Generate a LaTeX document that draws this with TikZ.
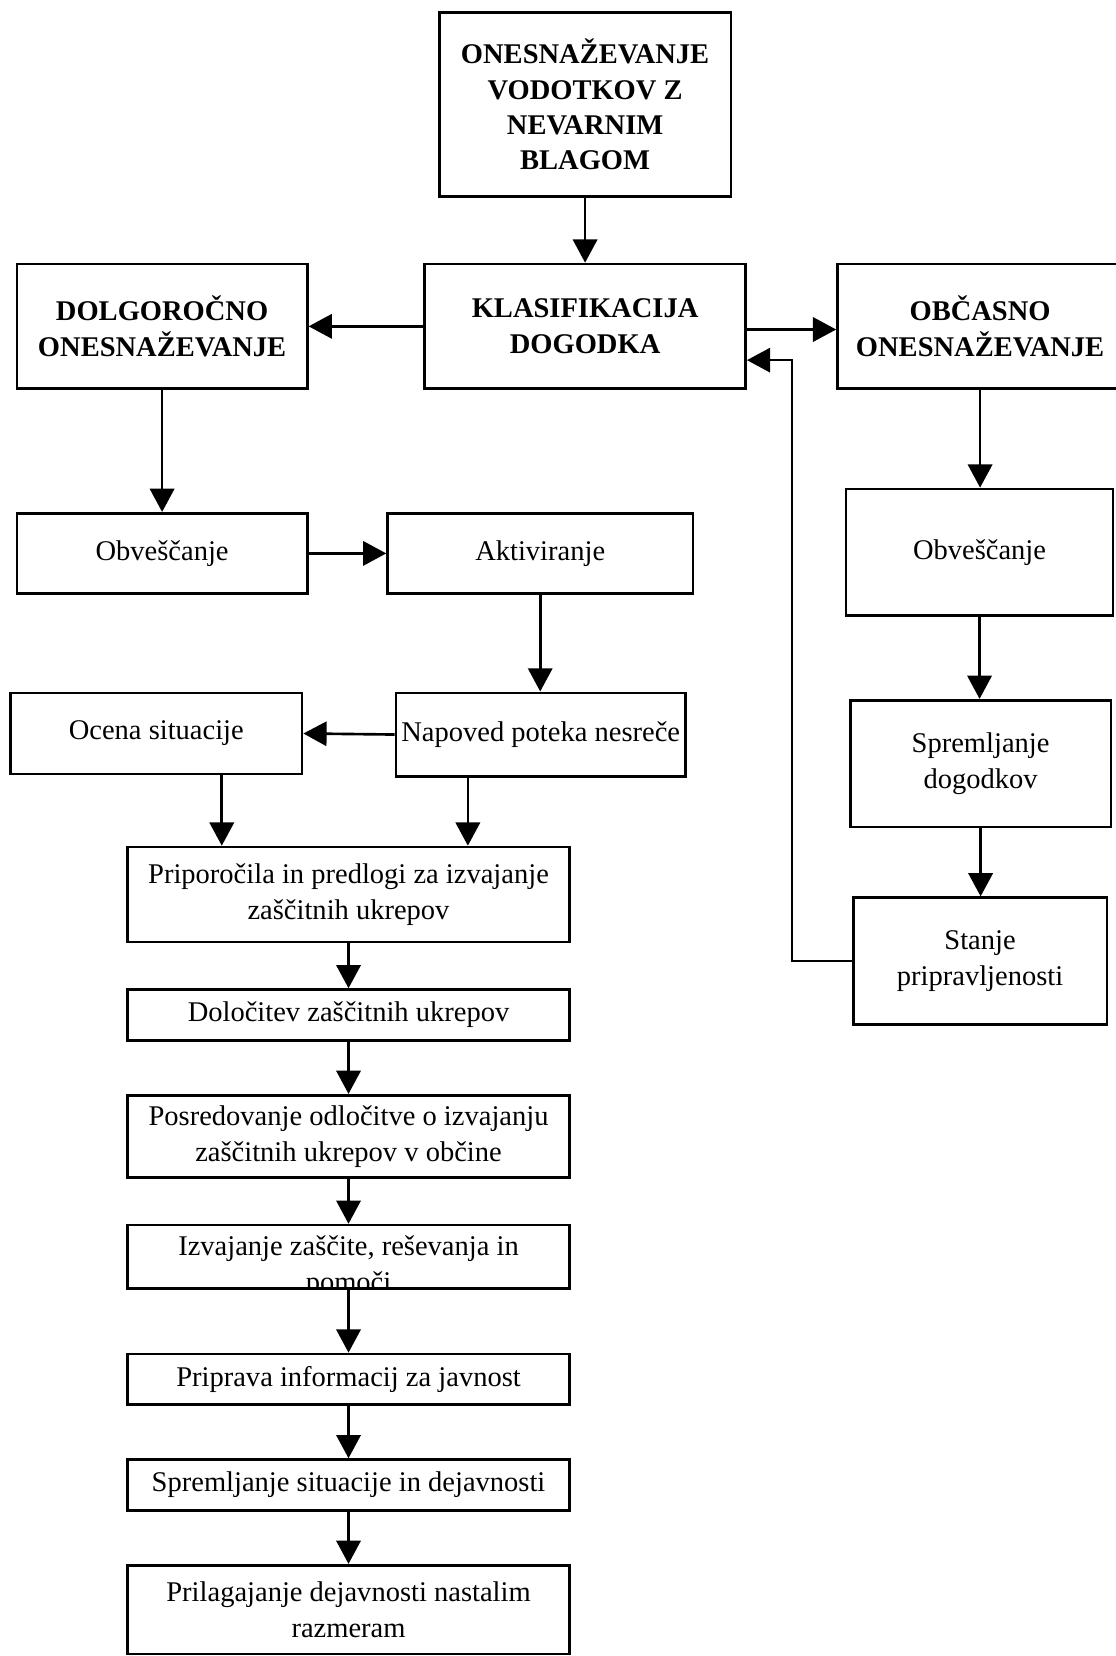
\documentclass[tikz,border=0pt]{standalone}
\usepackage{fontspec}
\setmainfont{Liberation Serif}
\usetikzlibrary{arrows.meta}
\begin{document}
\begin{tikzpicture}[x=0.5pt,y=-0.5pt,
  txt/.style={inner sep=0pt, align=center, font=\fontsize{13.5}{16.9}\selectfont},
  box/.style={txt, draw, line width=1.25pt, rectangle},
  bbox/.style={box, font=\fontsize{13.5}{16.75}\selectfont\bfseries},
  arr/.style={line width=1.25pt, -{Triangle[length=11pt,width=11.5pt]}}]
\useasboundingbox (0,0) rectangle (1056,1568);

% top part
\node[bbox, minimum width=138pt, minimum height=87pt] (top) at (554,99) {ONESNAŽEVANJE\\VODOTKOV Z\\NEVARNIM\\BLAGOM};
\node[bbox, minimum width=152pt, minimum height=59pt] (klas) at (554,309) {KLASIFIKACIJA\\DOGODKA};
\node[bbox, minimum width=137.5pt, minimum height=59pt] (dolg) at (153.5,309) {DOLGOROČNO\\ONESNAŽEVANJE};
\node[bbox, minimum width=135pt, minimum height=59pt] (obc) at (928,309) {OBČASNO\\ONESNAŽEVANJE};

% right column
\node[box, minimum width=126.5pt, minimum height=60pt] (obvR) at (927.5,523) {Obveščanje};
\node[box, minimum width=123.5pt, minimum height=60pt] (sprD) at (928.5,723) {Spremljanje\\dogodkov};
\node[box, minimum width=120pt, minimum height=60pt] (stanje) at (928,910) {Stanje\\pripravljenosti};

% left part
\node[box, minimum width=137.5pt, minimum height=38pt] (obvL) at (153.5,524) {Obveščanje};
\node[box, minimum width=144.5pt, minimum height=38pt] (akt) at (511.5,524) {Aktiviranje};
\node[box, minimum width=138pt, minimum height=38.5pt] (ocena) at (148,694.5) {Ocena situacije};
\node[box, minimum width=137pt, minimum height=39.5pt] (napoved) at (512,695.5) {Napoved poteka nesreče};

% chain
\node[box, minimum width=209pt, minimum height=45pt] (pripor) at (330,847) {Priporočila in predlogi za izvajanje\\zaščitnih ukrepov};
\node[box, minimum width=209pt, minimum height=24pt] (dolo) at (330,961) {Določitev zaščitnih ukrepov};
\node[box, minimum width=209pt, minimum height=39pt] (posr) at (330,1076) {Posredovanje odločitve o izvajanju\\zaščitnih ukrepov v občine};
\begin{scope}
\clip (121,1160) rectangle (539,1219);
\node[txt] (izvt) at (330,1199) {Izvajanje zaščite, reševanja in\\pomoči};
\end{scope}
\node[box, minimum width=209pt, minimum height=30pt] (izv) at (330,1190) {};
\node[box, minimum width=209pt, minimum height=24pt] (pripr) at (330,1306) {Priprava informacij za javnost};
\node[box, minimum width=209pt, minimum height=24pt] (spreS) at (330,1406) {Spremljanje situacije in dejavnosti};
\node[box, minimum width=209pt, minimum height=42pt] (prilag) at (330,1524) {Prilagajanje dejavnosti nastalim\\razmeram};

% connectors
\draw[arr] (top.south) -- (klas.north);
\draw[arr] (klas.west) -- (dolg.east);
\coordinate (ko) at (706,312);
\draw[arr] (ko) -- (ko -| obc.west);
\coordinate (fb) at (750,341);
\draw[arr] (stanje.west) -| (fb) -- (fb -| klas.east);
\draw[arr] (dolg.south) -- (obvL.north);
\draw[arr] (obvL.east) -- (akt.west);
\draw[arr] (akt.south) -- (akt.south |- napoved.north);
\draw[arr] (napoved.west) -- (ocena.east);
\draw[arr] (obc.south) -- (obc.south |- obvR.north);
\draw[arr] (obvR.south) -- (obvR.south |- sprD.north);
\draw[arr] (sprD.south) -- (sprD.south |- stanje.north);
\draw[arr] ([xshift=31pt]ocena.south) -- ([xshift=31pt]ocena.south |- pripor.north);
\draw[arr] ([xshift=-34.5pt]napoved.south) -- ([xshift=-34.5pt]napoved.south |- pripor.north);
\draw[arr] (pripor.south) -- (dolo.north);
\draw[arr] (dolo.south) -- (posr.north);
\draw[arr] (posr.south) -- (izv.north);
\draw[arr] (izv.south) -- (pripr.north);
\draw[arr] (pripr.south) -- (spreS.north);
\draw[arr] (spreS.south) -- (prilag.north);
\end{tikzpicture}
\end{document}
